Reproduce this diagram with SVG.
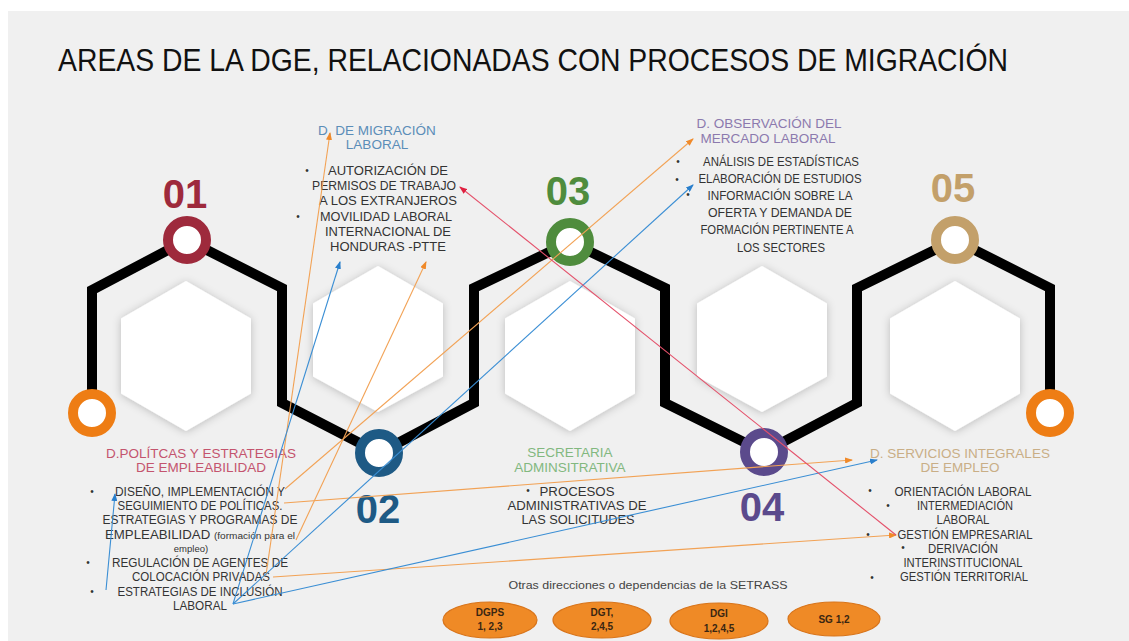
<svg xmlns="http://www.w3.org/2000/svg" width="1129" height="641" viewBox="0 0 1129 641">
<style>
.title{font-family:"Liberation Sans",Arial,sans-serif;font-size:31px;fill:#111}
.num{font-family:"Liberation Sans",Arial,sans-serif;font-size:40px;font-weight:bold;text-anchor:middle}
.head{font-family:"Liberation Sans",Arial,sans-serif;font-size:13.5px;text-anchor:middle}
.item{font-family:"Liberation Sans",Arial,sans-serif;font-size:12.5px;fill:#333;text-anchor:middle}
.small{font-size:9.5px}
.bul{font-family:"Liberation Sans",Arial,sans-serif;font-size:10px;fill:#333;text-anchor:middle}
.hex{fill:#fff;filter:url(#sh)}
.ring{fill:#fff;stroke-width:10}
.oval{fill:#EF8A26;stroke:#D8741A;stroke-width:1.2}
.ovt{font-family:"Liberation Sans",Arial,sans-serif;font-size:10px;font-weight:bold;fill:#3a2612;text-anchor:middle}
.co{fill:none;stroke:#F2A255;stroke-width:1.1;marker-end:url(#ao)}
.cb{fill:none;stroke:#3A8ED4;stroke-width:1.1;marker-end:url(#ab)}
.cr{fill:none;stroke:#E4506A;stroke-width:1.1;marker-end:url(#ar)}
</style>
<defs>
<filter id="sh" x="-20%" y="-20%" width="140%" height="140%">
<feDropShadow dx="0" dy="1" stdDeviation="4" flood-color="#000" flood-opacity="0.22"/>
</filter>
<marker id="ao" markerWidth="8" markerHeight="6" refX="7" refY="3" orient="auto" markerUnits="userSpaceOnUse"><path d="M0,0 L8,3 L0,6 z" fill="#F08A2A"/></marker>
<marker id="ab" markerWidth="8" markerHeight="6" refX="7" refY="3" orient="auto" markerUnits="userSpaceOnUse"><path d="M0,0 L8,3 L0,6 z" fill="#2A7FCC"/></marker>
<marker id="ar" markerWidth="8" markerHeight="6" refX="7" refY="3" orient="auto" markerUnits="userSpaceOnUse"><path d="M0,0 L8,3 L0,6 z" fill="#E02040"/></marker>
</defs>

<rect x="0" y="0" width="1129" height="641" fill="#fff"/>
<rect x="8" y="11" width="1121" height="630" fill="#F0F0F0"/>

<g id="title">
<text class="title" x="58" y="71" textLength="950" lengthAdjust="spacingAndGlyphs">AREAS DE LA DGE, RELACIONADAS CON PROCESOS DE MIGRACIÓN</text>
</g>

<g id="hexagons">
<polygon class="hex" points="186,281 251,318.5 251,393.5 186,431 121,393.5 121,318.5"/>
<polygon class="hex" points="378,266 443,303.5 443,376.5 378,412 313,376.5 313,303.5"/>
<polygon class="hex" points="570,281 635,318.5 635,393.5 570,431 505,393.5 505,318.5"/>
<polygon class="hex" points="762,266 827,303.5 827,376.5 762,412 697,376.5 697,303.5"/>
<polygon class="hex" points="955,281 1020,318.5 1020,393.5 955,431 890,393.5 890,318.5"/>
</g>

<g id="chain">
<path d="M92,413 V290 L187,240 L282,288 V403 L379,453 L474,403 V288 L570,242 L665,288 V403 L764,452 L857,403 V288 L955,240 L1050,288 V413" fill="none" stroke="#000" stroke-width="10" stroke-linejoin="miter"/>
<circle class="ring" cx="92" cy="413" r="19" stroke="#EE7D14"/>
<circle class="ring" cx="1050" cy="413" r="19" stroke="#EE7D14"/>
</g>

<g id="node01">
<circle class="ring" cx="187" cy="240" r="19" stroke="#9E2A3C"/>
<text class="num" x="185" y="208" fill="#9E2A3C">01</text>
</g>
<g id="node02">
<circle class="ring" cx="379" cy="453" r="19" stroke="#1E5A85"/>
<text class="num" x="378" y="523" fill="#1E5A85">02</text>
</g>
<g id="node03">
<circle class="ring" cx="570" cy="242" r="19" stroke="#4F8C3D"/>
<text class="num" x="568" y="205" fill="#4F8C3D">03</text>
</g>
<g id="node04">
<circle class="ring" cx="764" cy="452" r="19" stroke="#5B4A8C"/>
<text class="num" x="762" y="521" fill="#5B4A8C">04</text>
</g>
<g id="node05">
<circle class="ring" cx="955" cy="240" r="19" stroke="#C3A06A"/>
<text class="num" x="953" y="202" fill="#C3A06A">05</text>
</g>

<g id="dir-migracion">
<text class="head" x="377" y="135" fill="#5B8DB8">D. DE MIGRACIÓN</text>
<text class="head" x="377" y="149" fill="#5B8DB8">LABORAL</text>
<text class="bul" x="307" y="174">•</text>
<text class="bul" x="298" y="220">•</text>
<text class="item" x="388" y="175" textLength="120" lengthAdjust="spacingAndGlyphs">AUTORIZACIÓN DE</text>
<text class="item" x="384" y="190" textLength="144" lengthAdjust="spacingAndGlyphs">PERMISOS DE TRABAJO</text>
<text class="item" x="388" y="205" textLength="138" lengthAdjust="spacingAndGlyphs">A LOS EXTRANJEROS</text>
<text class="item" x="386" y="221" textLength="132" lengthAdjust="spacingAndGlyphs">MOVILIDAD LABORAL</text>
<text class="item" x="388" y="236" textLength="126" lengthAdjust="spacingAndGlyphs">INTERNACIONAL DE</text>
<text class="item" x="388" y="251" textLength="116" lengthAdjust="spacingAndGlyphs">HONDURAS -PTTE</text>
</g>

<g id="dir-observacion">
<text class="head" x="769" y="128" fill="#8C7AAE">D. OBSERVACIÓN DEL</text>
<text class="head" x="768" y="143" fill="#8C7AAE">MERCADO LABORAL</text>
<text class="bul" x="678" y="165">•</text>
<text class="bul" x="677" y="183">•</text>
<text class="bul" x="688" y="198">•</text>
<text class="item" x="781" y="166" textLength="156" lengthAdjust="spacingAndGlyphs">ANÁLISIS DE ESTADÍSTICAS</text>
<text class="item" x="780" y="183" textLength="163" lengthAdjust="spacingAndGlyphs">ELABORACIÓN DE ESTUDIOS</text>
<text class="item" x="780" y="200" textLength="145" lengthAdjust="spacingAndGlyphs">INFORMACIÓN SOBRE LA</text>
<text class="item" x="780" y="217" textLength="144" lengthAdjust="spacingAndGlyphs">OFERTA Y DEMANDA DE</text>
<text class="item" x="777" y="234" textLength="153" lengthAdjust="spacingAndGlyphs">FORMACIÓN PERTINENTE A</text>
<text class="item" x="781" y="252" textLength="88" lengthAdjust="spacingAndGlyphs">LOS SECTORES</text>
</g>

<g id="dir-politicas">
<text class="head" x="201" y="458" fill="#C4546E">D.POLÍTCAS Y ESTRATEGIAS</text>
<text class="head" x="201" y="472" fill="#C4546E">DE EMPLEABILIDAD</text>
<text class="bul" x="92" y="495">•</text>
<text class="bul" x="88" y="566">•</text>
<text class="bul" x="92" y="595">•</text>
<text class="item" x="200" y="496" textLength="170" lengthAdjust="spacingAndGlyphs">DISEÑO, IMPLEMENTACIÓN Y</text>
<text class="item" x="200" y="510" textLength="165" lengthAdjust="spacingAndGlyphs">SEGUIMIENTO DE POLÍTICAS.</text>
<text class="item" x="200" y="524" textLength="195" lengthAdjust="spacingAndGlyphs">ESTRATEGIAS Y PROGRAMAS DE</text>
<text class="item" x="200" y="539" textLength="190" lengthAdjust="spacingAndGlyphs">EMPLEABILIDAD <tspan class="small">(formación para el</tspan></text>
<text class="item small" x="191" y="552">empleo)</text>
<text class="item" x="200" y="567" textLength="176" lengthAdjust="spacingAndGlyphs">REGULACIÓN DE AGENTES DE</text>
<text class="item" x="201" y="581" textLength="138" lengthAdjust="spacingAndGlyphs">COLOCACIÓN PRIVADAS</text>
<text class="item" x="200" y="596" textLength="165" lengthAdjust="spacingAndGlyphs">ESTRATEGIAS DE INCLUSIÓN</text>
<text class="item" x="200" y="610" textLength="54" lengthAdjust="spacingAndGlyphs">LABORAL</text>
</g>

<g id="dir-secretaria">
<text class="head" x="570" y="457" fill="#82B87F">SECRETARIA</text>
<text class="head" x="570" y="472" fill="#82B87F">ADMINSITRATIVA</text>
<text class="bul" x="528" y="494">•</text>
<text class="item" x="577" y="496" textLength="75" lengthAdjust="spacingAndGlyphs">PROCESOS</text>
<text class="item" x="577" y="510" textLength="139" lengthAdjust="spacingAndGlyphs">ADMINISTRATIVAS DE</text>
<text class="item" x="578" y="524" textLength="113" lengthAdjust="spacingAndGlyphs">LAS SOLICITUDES</text>
</g>

<g id="dir-servicios">
<text class="head" x="960" y="458" fill="#C9AE86">D. SERVICIOS INTEGRALES</text>
<text class="head" x="960" y="472" fill="#C9AE86">DE EMPLEO</text>
<text class="bul" x="870" y="494">•</text>
<text class="bul" x="888" y="509">•</text>
<text class="bul" x="868" y="538">•</text>
<text class="bul" x="903" y="551">•</text>
<text class="bul" x="872" y="581">•</text>
<text class="item" x="963" y="496" textLength="137" lengthAdjust="spacingAndGlyphs">ORIENTACIÓN LABORAL</text>
<text class="item" x="965" y="510" textLength="96" lengthAdjust="spacingAndGlyphs">INTERMEDIACIÓN</text>
<text class="item" x="963" y="524" textLength="53" lengthAdjust="spacingAndGlyphs">LABORAL</text>
<text class="item" x="965" y="539" textLength="135" lengthAdjust="spacingAndGlyphs">GESTIÓN EMPRESARIAL</text>
<text class="item" x="963" y="553" textLength="70" lengthAdjust="spacingAndGlyphs">DERIVACIÓN</text>
<text class="item" x="963" y="567" textLength="119" lengthAdjust="spacingAndGlyphs">INTERINSTITUCIONAL</text>
<text class="item" x="964" y="581" textLength="128" lengthAdjust="spacingAndGlyphs">GESTIÓN TERRITORIAL</text>
</g>

<g id="otras">
<text x="648" y="589" font-family="'Liberation Sans',Arial,sans-serif" font-size="11.5" fill="#444" text-anchor="middle" textLength="279" lengthAdjust="spacingAndGlyphs">Otras direcciones o dependencias de la SETRASS</text>
</g>
<g id="dgps">
<ellipse class="oval" cx="490" cy="620" rx="47" ry="18"/>
<text class="ovt" x="490" y="616">DGPS</text>
<text class="ovt" x="490" y="630">1, 2,3</text>
</g>
<g id="dgt">
<ellipse class="oval" cx="602" cy="620" rx="49" ry="18"/>
<text class="ovt" x="602" y="616">DGT,</text>
<text class="ovt" x="602" y="630">2,4,5</text>
</g>
<g id="dgi">
<ellipse class="oval" cx="719" cy="621" rx="49" ry="18"/>
<text class="ovt" x="719" y="617">DGI</text>
<text class="ovt" x="719" y="632">1,2,4,5</text>
</g>
<g id="sg">
<ellipse class="oval" cx="834" cy="619" rx="46" ry="17"/>
<text class="ovt" x="834" y="623">SG 1,2</text>
</g>

<g id="connectors">
<line class="co" x1="266" y1="575" x2="330" y2="133"/>
<line class="co" x1="296" y1="540" x2="426" y2="262"/>
<line class="co" x1="285" y1="489" x2="693" y2="139"/>
<line class="co" x1="284" y1="503" x2="852" y2="460"/>
<line class="co" x1="273" y1="577" x2="896" y2="535"/>
<line class="cb" x1="233" y1="604" x2="340" y2="262"/>
<line class="cb" x1="233" y1="604" x2="693" y2="185"/>
<line class="cb" x1="233" y1="604" x2="877" y2="460"/>
<line class="cb" x1="106" y1="590" x2="115" y2="494"/>
<line class="cr" x1="896" y1="535" x2="460" y2="187"/>
</g>
</svg>
